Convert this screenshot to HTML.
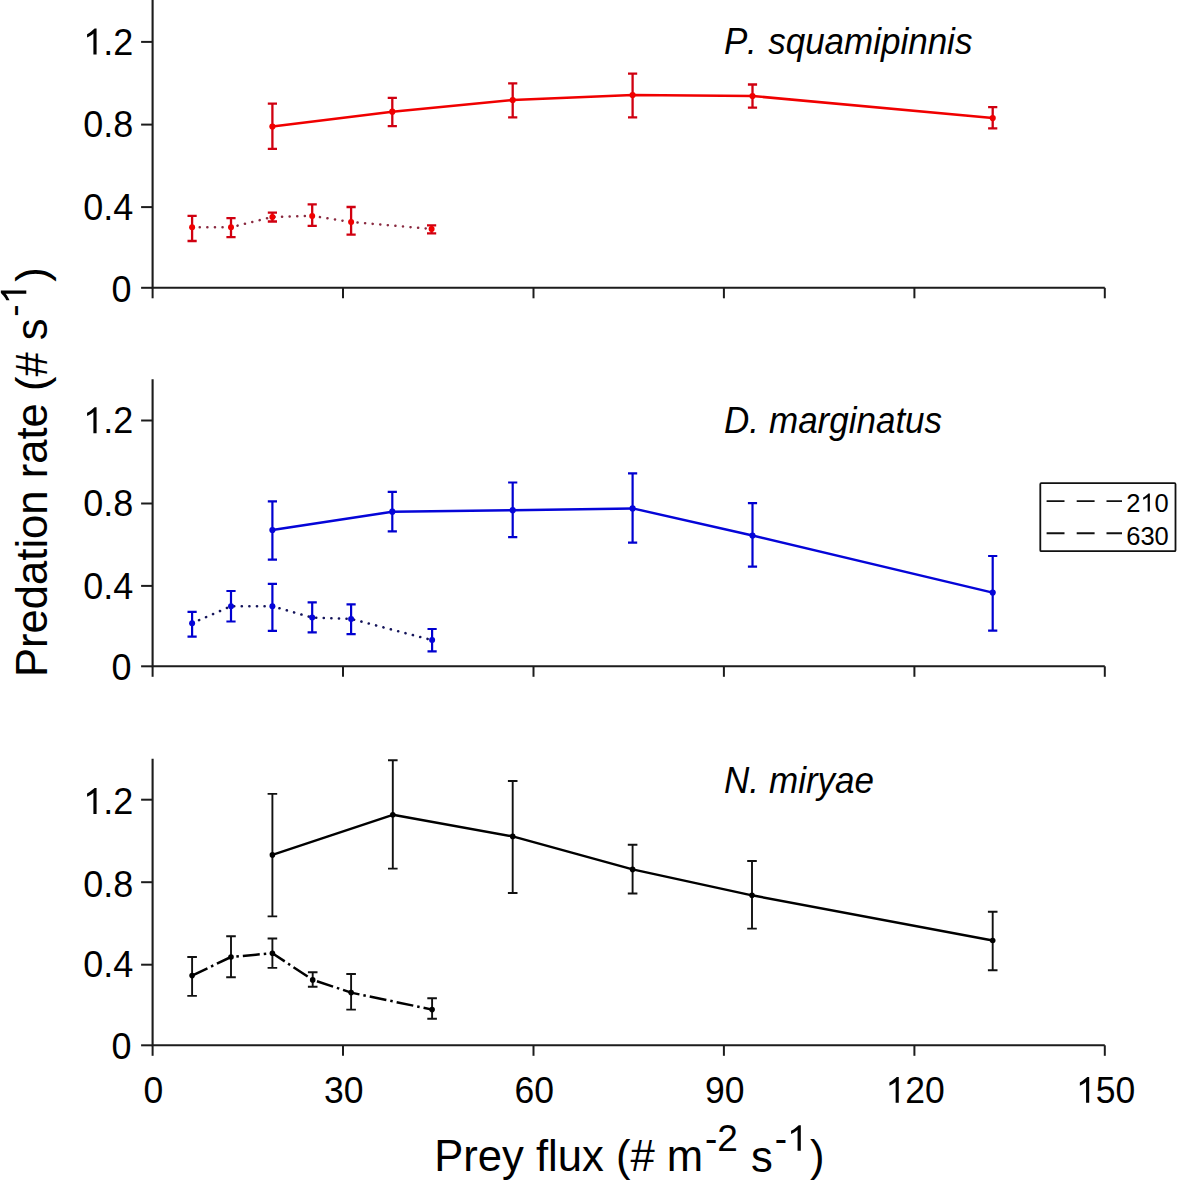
<!DOCTYPE html><html><head><meta charset="utf-8"><style>html,body{margin:0;padding:0;background:#fff;width:1181px;height:1185px;overflow:hidden}svg{display:block}text{font-family:"Liberation Sans",sans-serif;fill:#000}</style></head><body>
<svg width="1181" height="1185" viewBox="0 0 1181 1185">
<rect width="1181" height="1185" fill="#fff"/>
<path d="M152.6,0.0V287.8H1104.8" fill="none" stroke="#1c1c1c" stroke-width="2.1"/>
<path d="M141.1,287.8H152.6" stroke="#1c1c1c" stroke-width="2"/>
<text transform="translate(111.48,301.80)" font-size="36" style="font-kerning:none">0</text>
<path d="M141.1,207.1H152.6" stroke="#1c1c1c" stroke-width="2"/>
<text transform="translate(83.16,219.80)" font-size="36" style="font-kerning:none">0.4</text>
<path d="M141.1,124.6H152.6" stroke="#1c1c1c" stroke-width="2"/>
<text transform="translate(83.16,137.30)" font-size="36" style="font-kerning:none">0.8</text>
<path d="M141.1,41.9H152.6" stroke="#1c1c1c" stroke-width="2"/>
<text transform="translate(83.16,54.60)" font-size="36" style="font-kerning:none"><tspan fill="transparent">1</tspan>.2</text>
<path transform="translate(83.16,54.60) scale(0.01758,-0.01846)" d="M583 0V1147Q518 1085 412 1023T223 930V1104Q375 1175 489 1276T650 1409H763V0Z"/>
<path d="M152.6,287.8V298.3" stroke="#1c1c1c" stroke-width="2"/>
<path d="M343.0,287.8V298.3" stroke="#1c1c1c" stroke-width="2"/>
<path d="M533.5,287.8V298.3" stroke="#1c1c1c" stroke-width="2"/>
<path d="M723.9,287.8V298.3" stroke="#1c1c1c" stroke-width="2"/>
<path d="M914.4,287.8V298.3" stroke="#1c1c1c" stroke-width="2"/>
<path d="M1104.8,287.8V298.3" stroke="#1c1c1c" stroke-width="2"/>
<path d="M152.6,379.2V666.3H1104.8" fill="none" stroke="#1c1c1c" stroke-width="2.1"/>
<path d="M141.1,666.3H152.6" stroke="#1c1c1c" stroke-width="2"/>
<text transform="translate(111.48,680.30)" font-size="36" style="font-kerning:none">0</text>
<path d="M141.1,585.9H152.6" stroke="#1c1c1c" stroke-width="2"/>
<text transform="translate(83.16,598.60)" font-size="36" style="font-kerning:none">0.4</text>
<path d="M141.1,503.5H152.6" stroke="#1c1c1c" stroke-width="2"/>
<text transform="translate(83.16,516.20)" font-size="36" style="font-kerning:none">0.8</text>
<path d="M141.1,420.5H152.6" stroke="#1c1c1c" stroke-width="2"/>
<text transform="translate(83.16,433.20)" font-size="36" style="font-kerning:none"><tspan fill="transparent">1</tspan>.2</text>
<path transform="translate(83.16,433.20) scale(0.01758,-0.01846)" d="M583 0V1147Q518 1085 412 1023T223 930V1104Q375 1175 489 1276T650 1409H763V0Z"/>
<path d="M152.6,666.3V676.8" stroke="#1c1c1c" stroke-width="2"/>
<path d="M343.0,666.3V676.8" stroke="#1c1c1c" stroke-width="2"/>
<path d="M533.5,666.3V676.8" stroke="#1c1c1c" stroke-width="2"/>
<path d="M723.9,666.3V676.8" stroke="#1c1c1c" stroke-width="2"/>
<path d="M914.4,666.3V676.8" stroke="#1c1c1c" stroke-width="2"/>
<path d="M1104.8,666.3V676.8" stroke="#1c1c1c" stroke-width="2"/>
<path d="M152.6,758.8V1045.3H1104.8" fill="none" stroke="#1c1c1c" stroke-width="2.1"/>
<path d="M141.1,1045.3H152.6" stroke="#1c1c1c" stroke-width="2"/>
<text transform="translate(111.48,1059.30)" font-size="36" style="font-kerning:none">0</text>
<path d="M141.1,964.7H152.6" stroke="#1c1c1c" stroke-width="2"/>
<text transform="translate(83.16,977.40)" font-size="36" style="font-kerning:none">0.4</text>
<path d="M141.1,882.2H152.6" stroke="#1c1c1c" stroke-width="2"/>
<text transform="translate(83.16,896.70)" font-size="36" style="font-kerning:none">0.8</text>
<path d="M141.1,799.7H152.6" stroke="#1c1c1c" stroke-width="2"/>
<text transform="translate(83.16,813.90)" font-size="36" style="font-kerning:none"><tspan fill="transparent">1</tspan>.2</text>
<path transform="translate(83.16,813.90) scale(0.01758,-0.01846)" d="M583 0V1147Q518 1085 412 1023T223 930V1104Q375 1175 489 1276T650 1409H763V0Z"/>
<path d="M152.6,1045.3V1055.8" stroke="#1c1c1c" stroke-width="2"/>
<path d="M343.0,1045.3V1055.8" stroke="#1c1c1c" stroke-width="2"/>
<path d="M533.5,1045.3V1055.8" stroke="#1c1c1c" stroke-width="2"/>
<path d="M723.9,1045.3V1055.8" stroke="#1c1c1c" stroke-width="2"/>
<path d="M914.4,1045.3V1055.8" stroke="#1c1c1c" stroke-width="2"/>
<path d="M1104.8,1045.3V1055.8" stroke="#1c1c1c" stroke-width="2"/>
<text transform="translate(143.53,1102.80) scale(1,1.06)" font-size="35.5" style="font-kerning:none">0</text>
<text transform="translate(324.10,1102.80) scale(1,1.06)" font-size="35.5" style="font-kerning:none">30</text>
<text transform="translate(514.54,1102.80) scale(1,1.06)" font-size="35.5" style="font-kerning:none">60</text>
<text transform="translate(704.98,1102.80) scale(1,1.06)" font-size="35.5" style="font-kerning:none">90</text>
<text transform="translate(885.54,1102.80) scale(1,1.06)" font-size="35.5" style="font-kerning:none"><tspan fill="transparent">1</tspan>20</text>
<path transform="translate(885.54,1102.80) scale(0.01733,-0.01837)" d="M583 0V1147Q518 1085 412 1023T223 930V1104Q375 1175 489 1276T650 1409H763V0Z"/>
<text transform="translate(1075.98,1102.80) scale(1,1.06)" font-size="35.5" style="font-kerning:none"><tspan fill="transparent">1</tspan>50</text>
<path transform="translate(1075.98,1102.80) scale(0.01733,-0.01837)" d="M583 0V1147Q518 1085 412 1023T223 930V1104Q375 1175 489 1276T650 1409H763V0Z"/>
<text transform="translate(724,54.3) scale(1,1.06)" font-size="35" font-style="italic">P</text>
<text transform="translate(746.9,54.3) scale(1,1.06)" font-size="35" font-style="italic">.</text>
<text transform="translate(768.2,54.3) scale(1,1.06)" font-size="35" font-style="italic">squamipinnis</text>
<text transform="translate(724,432.7) scale(1,1.06)" font-size="35" font-style="italic">D.</text>
<text transform="translate(769.0,432.7) scale(1,1.06)" font-size="35" font-style="italic">marginatus</text>
<text transform="translate(724,793.2) scale(1,1.06)" font-size="35" font-style="italic">N.</text>
<text transform="translate(769.0,793.2) scale(1,1.06)" font-size="35" font-style="italic">miryae</text>
<path d="M192.1,227.3 L231.0,227.3 L272.4,216.9 L312.2,215.9 L351.1,222.0 L431.6,229.0" fill="none" stroke="#8a2a40" stroke-width="2.5" stroke-dasharray="0.1 7.5" stroke-linecap="round" stroke-linejoin="round"/>
<path d="M192.1,215.9V241.0M187.5,215.9H196.7M187.5,241.0H196.7" stroke="#d00010" stroke-width="2.3" fill="none"/>
<circle cx="192.1" cy="227.3" r="3.0" fill="#f00000"/>
<path d="M231.0,218.1V237.2M226.4,218.1H235.6M226.4,237.2H235.6" stroke="#d00010" stroke-width="2.3" fill="none"/>
<circle cx="231.0" cy="227.3" r="3.0" fill="#f00000"/>
<path d="M272.4,212.6V221.5M267.8,212.6H277.0M267.8,221.5H277.0" stroke="#d00010" stroke-width="2.3" fill="none"/>
<circle cx="272.4" cy="216.9" r="3.0" fill="#f00000"/>
<path d="M312.2,204.4V225.8M307.6,204.4H316.8M307.6,225.8H316.8" stroke="#d00010" stroke-width="2.3" fill="none"/>
<circle cx="312.2" cy="215.9" r="3.0" fill="#f00000"/>
<path d="M351.1,207.0V234.7M346.5,207.0H355.7M346.5,234.7H355.7" stroke="#d00010" stroke-width="2.3" fill="none"/>
<circle cx="351.1" cy="222.0" r="3.0" fill="#f00000"/>
<path d="M431.6,225.3V233.4M427.0,225.3H436.2M427.0,233.4H436.2" stroke="#d00010" stroke-width="2.3" fill="none"/>
<circle cx="431.6" cy="229.0" r="3.0" fill="#f00000"/>
<path d="M272.4,126.5 L392.3,111.7 L512.7,100.0 L632.6,95.0 L752.5,96.0 L992.7,118.1" fill="none" stroke="#f00000" stroke-width="2.5" stroke-linejoin="round"/>
<path d="M272.4,103.6V148.9M267.8,103.6H277.0M267.8,148.9H277.0" stroke="#d00010" stroke-width="2.3" fill="none"/>
<circle cx="272.4" cy="126.5" r="3.1" fill="#f00000"/>
<path d="M392.3,97.8V126.2M387.7,97.8H396.9M387.7,126.2H396.9" stroke="#d00010" stroke-width="2.3" fill="none"/>
<circle cx="392.3" cy="111.7" r="3.1" fill="#f00000"/>
<path d="M512.7,83.3V117.3M508.1,83.3H517.3M508.1,117.3H517.3" stroke="#d00010" stroke-width="2.3" fill="none"/>
<circle cx="512.7" cy="100.0" r="3.1" fill="#f00000"/>
<path d="M632.6,73.6V117.3M628.0,73.6H637.2M628.0,117.3H637.2" stroke="#d00010" stroke-width="2.3" fill="none"/>
<circle cx="632.6" cy="95.0" r="3.1" fill="#f00000"/>
<path d="M752.5,84.5V107.6M747.9,84.5H757.1M747.9,107.6H757.1" stroke="#d00010" stroke-width="2.3" fill="none"/>
<circle cx="752.5" cy="96.0" r="3.1" fill="#f00000"/>
<path d="M992.7,107.2V128.3M988.1,107.2H997.3M988.1,128.3H997.3" stroke="#d00010" stroke-width="2.3" fill="none"/>
<circle cx="992.7" cy="118.1" r="3.1" fill="#f00000"/>
<path d="M192.1,623.2 L231.0,606.2 L272.4,606.2 L312.2,617.6 L351.1,618.9 L432.1,640.1" fill="none" stroke="#14145a" stroke-width="2.6" stroke-dasharray="0.1 7.5" stroke-linecap="round" stroke-linejoin="round"/>
<path d="M192.1,611.8V636.7M187.5,611.8H196.7M187.5,636.7H196.7" stroke="#0000d0" stroke-width="2.2" fill="none"/>
<circle cx="192.1" cy="623.2" r="3.0" fill="#0505d8"/>
<path d="M231.0,591.0V621.5M226.4,591.0H235.6M226.4,621.5H235.6" stroke="#0000d0" stroke-width="2.2" fill="none"/>
<circle cx="231.0" cy="606.2" r="3.0" fill="#0505d8"/>
<path d="M272.4,583.9V630.8M267.8,583.9H277.0M267.8,630.8H277.0" stroke="#0000d0" stroke-width="2.2" fill="none"/>
<circle cx="272.4" cy="606.2" r="3.0" fill="#0505d8"/>
<path d="M312.2,602.4V632.4M307.6,602.4H316.8M307.6,632.4H316.8" stroke="#0000d0" stroke-width="2.2" fill="none"/>
<circle cx="312.2" cy="617.6" r="3.0" fill="#0505d8"/>
<path d="M351.1,604.4V634.2M346.5,604.4H355.7M346.5,634.2H355.7" stroke="#0000d0" stroke-width="2.2" fill="none"/>
<circle cx="351.1" cy="618.9" r="3.0" fill="#0505d8"/>
<path d="M432.1,629.0V651.4M427.5,629.0H436.7M427.5,651.4H436.7" stroke="#0000d0" stroke-width="2.2" fill="none"/>
<circle cx="432.1" cy="640.1" r="3.0" fill="#0505d8"/>
<path d="M272.4,530.0 L392.3,511.7 L512.7,510.2 L632.6,508.4 L752.5,535.5 L992.7,592.6" fill="none" stroke="#0505d8" stroke-width="2.5" stroke-linejoin="round"/>
<path d="M272.4,501.3V559.7M267.8,501.3H277.0M267.8,559.7H277.0" stroke="#0000d0" stroke-width="2.2" fill="none"/>
<circle cx="272.4" cy="530.0" r="3.1" fill="#0505d8"/>
<path d="M392.3,491.9V531.3M387.7,491.9H396.9M387.7,531.3H396.9" stroke="#0000d0" stroke-width="2.2" fill="none"/>
<circle cx="392.3" cy="511.7" r="3.1" fill="#0505d8"/>
<path d="M512.7,482.5V537.1M508.1,482.5H517.3M508.1,537.1H517.3" stroke="#0000d0" stroke-width="2.2" fill="none"/>
<circle cx="512.7" cy="510.2" r="3.1" fill="#0505d8"/>
<path d="M632.6,473.4V542.7M628.0,473.4H637.2M628.0,542.7H637.2" stroke="#0000d0" stroke-width="2.2" fill="none"/>
<circle cx="632.6" cy="508.4" r="3.1" fill="#0505d8"/>
<path d="M752.5,503.2V566.7M747.9,503.2H757.1M747.9,566.7H757.1" stroke="#0000d0" stroke-width="2.2" fill="none"/>
<circle cx="752.5" cy="535.5" r="3.1" fill="#0505d8"/>
<path d="M992.7,556.0V630.7M988.1,556.0H997.3M988.1,630.7H997.3" stroke="#0000d0" stroke-width="2.2" fill="none"/>
<circle cx="992.7" cy="592.6" r="3.1" fill="#0505d8"/>
<path d="M192.1,975.6 L231.0,957.0 L272.4,953.2 L312.7,979.9 L351.1,992.6 L432.1,1009.6" fill="none" stroke="#000" stroke-width="2.5" stroke-dasharray="17 4 2.5 4" stroke-linejoin="round"/>
<path d="M192.1,957.0V995.9M187.3,957.0H196.9M187.3,995.9H196.9" stroke="#111" stroke-width="1.9" fill="none"/>
<circle cx="192.1" cy="975.6" r="2.8" fill="#000"/>
<path d="M231.0,936.2V977.3M226.2,936.2H235.8M226.2,977.3H235.8" stroke="#111" stroke-width="1.9" fill="none"/>
<circle cx="231.0" cy="957.0" r="2.8" fill="#000"/>
<path d="M272.4,938.5V967.9M267.6,938.5H277.2M267.6,967.9H277.2" stroke="#111" stroke-width="1.9" fill="none"/>
<circle cx="272.4" cy="953.2" r="2.8" fill="#000"/>
<path d="M312.7,972.3V986.7M307.9,972.3H317.5M307.9,986.7H317.5" stroke="#111" stroke-width="1.9" fill="none"/>
<circle cx="312.7" cy="979.9" r="2.8" fill="#000"/>
<path d="M351.1,974.0V1009.6M346.3,974.0H355.9M346.3,1009.6H355.9" stroke="#111" stroke-width="1.9" fill="none"/>
<circle cx="351.1" cy="992.6" r="2.8" fill="#000"/>
<path d="M432.1,998.2V1018.7M427.3,998.2H436.9M427.3,1018.7H436.9" stroke="#111" stroke-width="1.9" fill="none"/>
<circle cx="432.1" cy="1009.6" r="2.8" fill="#000"/>
<path d="M272.4,854.9 L392.8,814.8 L512.7,836.4 L632.6,869.4 L752.0,895.3 L992.7,940.5" fill="none" stroke="#000" stroke-width="2.4" stroke-linejoin="round"/>
<path d="M272.4,793.9V916.4M267.6,793.9H277.2M267.6,916.4H277.2" stroke="#111" stroke-width="1.9" fill="none"/>
<circle cx="272.4" cy="854.9" r="2.8" fill="#000"/>
<path d="M392.8,760.2V868.6M388.0,760.2H397.6M388.0,868.6H397.6" stroke="#111" stroke-width="1.9" fill="none"/>
<circle cx="392.8" cy="814.8" r="2.8" fill="#000"/>
<path d="M512.7,781.0V893.0M507.9,781.0H517.5M507.9,893.0H517.5" stroke="#111" stroke-width="1.9" fill="none"/>
<circle cx="512.7" cy="836.4" r="2.8" fill="#000"/>
<path d="M632.6,844.7V893.5M627.8,844.7H637.4M627.8,893.5H637.4" stroke="#111" stroke-width="1.9" fill="none"/>
<circle cx="632.6" cy="869.4" r="2.8" fill="#000"/>
<path d="M752.0,861.0V928.6M747.2,861.0H756.8M747.2,928.6H756.8" stroke="#111" stroke-width="1.9" fill="none"/>
<circle cx="752.0" cy="895.3" r="2.8" fill="#000"/>
<path d="M992.7,911.8V970.2M987.9,911.8H997.5M987.9,970.2H997.5" stroke="#111" stroke-width="1.9" fill="none"/>
<circle cx="992.7" cy="940.5" r="2.8" fill="#000"/>
<rect x="1040.3" y="483.2" width="135.2" height="68" fill="#fff" stroke="#111" stroke-width="1.8" rx="1"/>
<path d="M1046.6,501.1H1064.5M1076.7,501.1H1094.6M1106.5,501.1H1122" stroke="#111" stroke-width="1.9"/>
<path d="M1046.6,533.3H1064.5M1076.7,533.3H1094.6M1106.5,533.3H1122" stroke="#111" stroke-width="1.9"/>
<text transform="translate(1126.20,511.60)" font-size="25.5" style="font-kerning:none">2<tspan fill="transparent">1</tspan>0</text>
<path transform="translate(1140.38,511.60) scale(0.01245,-0.01282)" d="M583 0V1147Q518 1085 412 1023T223 930V1104Q375 1175 489 1276T650 1409H763V0Z"/>
<text transform="translate(1126.20,545.40)" font-size="25.5" style="font-kerning:none">630</text>
<text transform="translate(46.6,677) rotate(-90)" font-size="43.6">Predation rate (# s</text>
<g transform="translate(26.3,316.7) rotate(-90)">
<text transform="translate(0.00,0.00)" font-size="37" style="font-kerning:none">-<tspan fill="transparent">1</tspan></text>
<path transform="translate(12.32,0.00) scale(0.01807,-0.01807)" d="M583 0V1147Q518 1085 412 1023T223 930V1104Q375 1175 489 1276T650 1409H763V0Z"/>
</g>
<text transform="translate(46.6,281.8) rotate(-90)" font-size="43.6">)</text>
<text x="434.2" y="1171.3" font-size="43.6">Prey flux (# m</text>
<text transform="translate(705.00,1151.20)" font-size="37" style="font-kerning:none">-2</text>
<text x="751" y="1172" font-size="43.6">s</text>
<text transform="translate(774.70,1150.80)" font-size="37" style="font-kerning:none">-<tspan fill="transparent">1</tspan></text>
<path transform="translate(787.02,1150.80) scale(0.01807,-0.01807)" d="M583 0V1147Q518 1085 412 1023T223 930V1104Q375 1175 489 1276T650 1409H763V0Z"/>
<text x="810" y="1171.3" font-size="43.6">)</text>
</svg></body></html>
